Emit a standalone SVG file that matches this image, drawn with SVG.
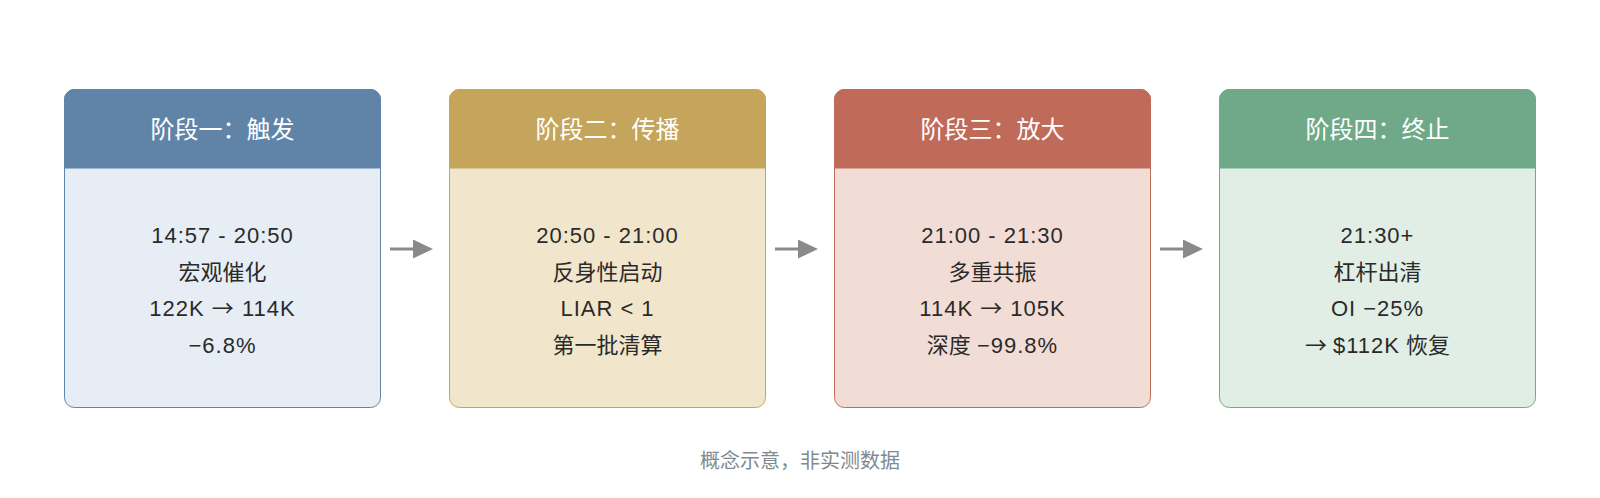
<svg xmlns="http://www.w3.org/2000/svg" width="1600" height="498" viewBox="0 0 1600 498">
<style>
text{font-family:"Liberation Sans","Noto Sans CJK SC",sans-serif;text-anchor:middle}
.hd{font-size:24px;fill:#ffffff}
.bd{font-size:22px;fill:#2a2a2a}
.ls{letter-spacing:1px}
.ar{font-family:"Noto Sans CJK SC",sans-serif}
.ft{font-size:20px;fill:#7f8a90}
.conn line{stroke:#8a8a8a;stroke-width:3}
</style>
<defs>
<marker id="ah" markerUnits="userSpaceOnUse" markerWidth="20" markerHeight="20" refX="1" refY="9.5" orient="auto">
<path d="M0,0 L20,9.5 L0,19 Z" fill="#8a8a8a"/>
</marker>
</defs>
<rect width="1600" height="498" fill="#ffffff"/>

<g id="stage1">
<rect x="64.5" y="89.5" width="316" height="318" rx="10" fill="#e7edf5" stroke="#5f84a8"/>
<path d="M64.5,168 V99.5 A10,10 0 0 1 74.5,89.5 H370.5 A10,10 0 0 1 380.5,99.5 V168 Z" fill="#5f84a8" stroke="#5f84a8"/>
<text class="hd" x="222.5" y="138">阶段一：触发</text>
<text class="bd ls" x="222.5" y="243">14:57 - 20:50</text>
<text class="bd" x="222.5" y="279.5">宏观催化</text>
<text class="bd ls" x="222.5" y="316">122K <tspan class="ar">→</tspan> 114K</text>
<text class="bd ls" x="222.5" y="352.5">−6.8%</text>
</g>

<g id="stage2">
<rect x="449.5" y="89.5" width="316" height="318" rx="10" fill="#f1e6cb" stroke="#c4a55b"/>
<path d="M449.5,168 V99.5 A10,10 0 0 1 459.5,89.5 H755.5 A10,10 0 0 1 765.5,99.5 V168 Z" fill="#c4a55b" stroke="#c4a55b"/>
<text class="hd" x="607.5" y="138">阶段二：传播</text>
<text class="bd ls" x="607.5" y="243">20:50 - 21:00</text>
<text class="bd" x="607.5" y="279.5">反身性启动</text>
<text class="bd ls" x="607.5" y="316">LIAR &lt; 1</text>
<text class="bd" x="607.5" y="352.5">第一批清算</text>
</g>

<g id="stage3">
<rect x="834.5" y="89.5" width="316" height="318" rx="10" fill="#f2ddd6" stroke="#c06b5a"/>
<path d="M834.5,168 V99.5 A10,10 0 0 1 844.5,89.5 H1140.5 A10,10 0 0 1 1150.5,99.5 V168 Z" fill="#c06b5a" stroke="#c06b5a"/>
<text class="hd" x="992.5" y="138">阶段三：放大</text>
<text class="bd ls" x="992.5" y="243">21:00 - 21:30</text>
<text class="bd" x="992.5" y="279.5">多重共振</text>
<text class="bd ls" x="992.5" y="316">114K <tspan class="ar">→</tspan> 105K</text>
<text class="bd" x="992.5" y="352.5">深度 <tspan class="ls">−99.8%</tspan></text>
</g>

<g id="stage4">
<rect x="1219.5" y="89.5" width="316" height="318" rx="10" fill="#e0eee6" stroke="#6fa987"/>
<path d="M1219.5,168 V99.5 A10,10 0 0 1 1229.5,89.5 H1525.5 A10,10 0 0 1 1535.5,99.5 V168 Z" fill="#6fa987" stroke="#6fa987"/>
<text class="hd" x="1377.5" y="138">阶段四：终止</text>
<text class="bd ls" x="1377.5" y="243">21:30+</text>
<text class="bd" x="1377.5" y="279.5">杠杆出清</text>
<text class="bd ls" x="1377.5" y="316">OI −25%</text>
<text class="bd" x="1377.5" y="352.5"><tspan class="ar">→</tspan> <tspan class="ls">$112K</tspan> 恢复</text>
</g>

<g id="connectors" class="conn">
<line x1="390" y1="249" x2="414" y2="249" marker-end="url(#ah)"/>
<line x1="775" y1="249" x2="799" y2="249" marker-end="url(#ah)"/>
<line x1="1160" y1="249" x2="1184" y2="249" marker-end="url(#ah)"/>
</g>

<text class="ft" x="800" y="468">概念示意，非实测数据</text>
</svg>
